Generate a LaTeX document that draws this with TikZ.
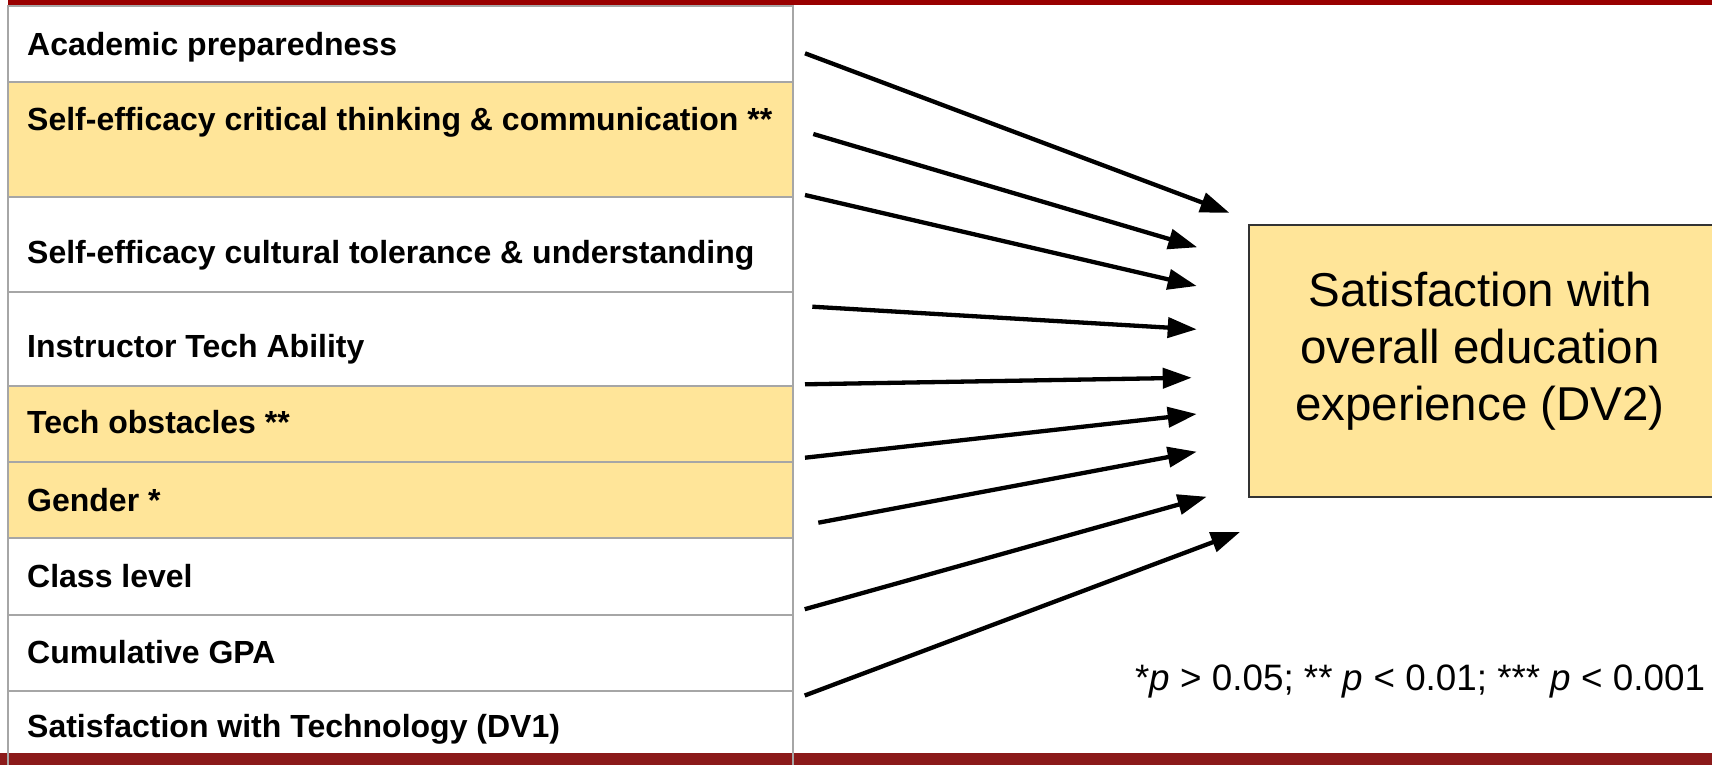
\documentclass[tikz,border=0pt]{standalone}
\usepackage{fontspec}
\setmainfont{Liberation Sans}
\usetikzlibrary{arrows.meta}
\definecolor{barTop}{HTML}{990000}
\definecolor{barBot}{HTML}{8B1A1A}
\definecolor{hl}{HTML}{FFE599}
\definecolor{gridgray}{HTML}{A6A6A6}
\definecolor{boxline}{HTML}{333333}
\begin{document}
\begin{tikzpicture}[x=1pt,y=-1pt,
  cell/.style={draw=gridgray, line width=2pt, minimum width=785pt, inner sep=0pt, outer sep=0pt},
  lbl/.style={anchor=base west, inner sep=0pt, font=\bfseries\fontsize{32}{38}\selectfont},
  dvbox/.style={draw=boxline, fill=hl, line width=2pt, minimum width=464pt, minimum height=272pt, inner sep=0pt},
  dvtext/.style={align=center, inner sep=0pt, font=\fontsize{47.5}{57}\selectfont},
  note/.style={anchor=base west, inner sep=0pt, font=\fontsize{36.8}{44}\selectfont},
  arr/.style={line width=4.3pt, -{Triangle[length=29pt,width=20pt]}}]
\useasboundingbox (0,0) rectangle (1712,764);
% table rows
\node[cell, fill=white, minimum height=76.5pt] (r1) at (400.5,43.75) {};
\node[cell, fill=hl,    minimum height=114.5pt] (r2) at (400.5,139.25) {};
\node[cell, fill=white, minimum height=95pt]   (r3) at (400.5,244) {};
\node[cell, fill=white, minimum height=94pt]   (r4) at (400.5,338.5) {};
\node[cell, fill=hl,    minimum height=76.5pt] (r5) at (400.5,423.75) {};
\node[cell, fill=hl,    minimum height=76.3pt] (r6) at (400.5,500.15) {};
\node[cell, fill=white, minimum height=76.4pt] (r7) at (400.5,576.5) {};
\node[cell, fill=white, minimum height=76.3pt] (r8) at (400.5,652.85) {};
\node[cell, fill=white, minimum height=79pt]   (r9) at (400.5,730.5) {};
% bars
\fill[barTop] (8,0) rectangle (1712,5.3);
\fill[barBot] (0,752.7) rectangle (1712,770);
\draw[gridgray, line width=2pt] (r9.north west) -- (r9.south west);
\draw[gridgray, line width=2pt] (r9.north east) -- (r9.south east);
% labels
\node[lbl] (l1) at (27,55)    {Academic preparedness};
\node[lbl] (l2) at (27,130)   {Self-efficacy critical thinking \& communication **};
\node[lbl] (l3) at (27,263)   {Self-efficacy cultural tolerance \& understanding};
\node[lbl] (l4) at (27,357)   {Instructor Tech Ability};
\node[lbl] (l5) at (27,433.5) {Tech obstacles **};
\node[lbl] (l6) at (27,511)   {Gender *};
\node[lbl] (l7) at (27,587)   {Class level};
\node[lbl] (l8) at (27,663)   {Cumulative GPA};
\node[lbl] (l9) at (27,737)   {Satisfaction with Technology (DV1)};
% outcome box
\node[dvbox] (dv) at (1481,361) {};
\node[dvtext] (dvt) at (1480,351) {Satisfaction with\\overall education\\experience (DV2)};
% note
\node[note] (pn) at (1135,690) {*\textit{p} > 0.05; ** \textit{p} < 0.01; *** \textit{p} < 0.001};
% arrow end points
\coordinate (s1) at (805,53.3);   \coordinate (t1) at (1229.3,212.7);
\coordinate (s2) at (813.3,134);  \coordinate (t2) at (1197.3,247.3);
\coordinate (s3) at (805,195);    \coordinate (t3) at (1196.7,286);
\coordinate (s4) at (812.3,306.7);\coordinate (t4) at (1196.7,329.3);
\coordinate (s5) at (805,384.3);  \coordinate (t5) at (1191.7,377.7);
\coordinate (s6) at (805,457.7);  \coordinate (t6) at (1196.7,414);
\coordinate (s7) at (818.3,522.7);\coordinate (t7) at (1196.7,451.7);
\coordinate (s8) at (804.7,609.2);\coordinate (t8) at (1206.7,496.7);
\coordinate (s9) at (804.7,695.5);\coordinate (t9) at (1240,532);
\foreach \i in {1,...,9} \draw[arr] (s\i) -- (t\i);
\end{tikzpicture}
\end{document}
